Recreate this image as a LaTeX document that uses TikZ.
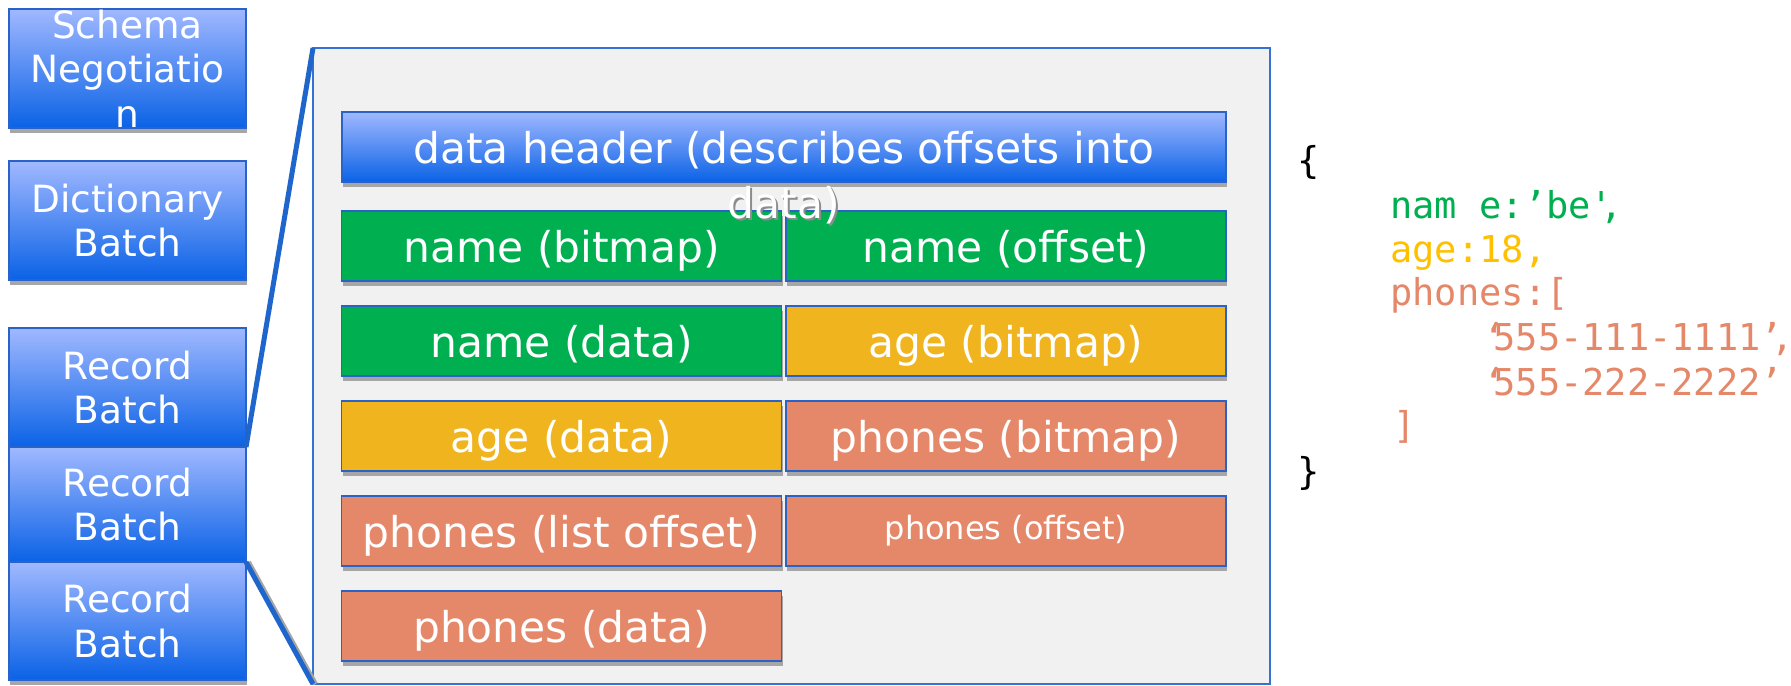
\documentclass[tikz,border=0pt]{standalone}
\usepackage{fontspec}
\setmainfont{DejaVu Sans}
\newfontfamily\jsonfont{DejaVu Sans Mono}
\usetikzlibrary{shadows}
\definecolor{gradtop}{HTML}{A0B8FF}
\definecolor{gradbot}{HTML}{0A62E6}
\definecolor{boxblue}{HTML}{2A62C8}
\definecolor{cgreen}{HTML}{00B050}
\definecolor{cyellow}{HTML}{F0B41E}
\definecolor{csalmon}{HTML}{E5886A}
\definecolor{jyellow}{HTML}{FFC000}
\definecolor{panelfill}{HTML}{F1F1F1}
\definecolor{panelline}{HTML}{3572D4}
\definecolor{linkblue}{HTML}{1F66CC}
\definecolor{shadowgray}{HTML}{A6A6A6}
\tikzset{
  basebox/.style={draw=boxblue, line width=0.75pt, inner sep=0pt, outer sep=0pt, rectangle,
    drop shadow={shadow xshift=0.5pt, shadow yshift=-2.5pt, fill=shadowgray, opacity=1}},
  bluebox/.style={basebox, top color=gradtop, bottom color=gradbot},
  cellfont/.style={text=white, font=\fontsize{21.2}{25}\selectfont, text height=17pt, text depth=0.5pt},
  greenbox/.style={basebox, fill=cgreen, cellfont},
  yellowbox/.style={basebox, fill=cyellow, cellfont},
  salmonbox/.style={basebox, fill=csalmon, cellfont},
  leftbox/.style={bluebox, minimum width=118.5pt},
  cell/.style={minimum width=220pt, minimum height=35pt},
  lbl/.style={text=white, inner sep=0pt, align=center, font=\fontsize{18.75}{22.25}\selectfont},
  hdr/.style={text=white, inner sep=0pt, anchor=base, font=\fontsize{21.2}{25}\selectfont},
  json/.style={inner sep=0pt, anchor=base west, font=\jsonfont\fontsize{18.5}{22}\selectfont},
  link/.style={draw=linkblue, line width=2.5pt},
}
\begin{document}
\begin{tikzpicture}[x=0.5pt,y=-0.5pt]
\fill[white] (0,0) rectangle (1791,685);
\useasboundingbox (0,0) rectangle (1791,685);

% panel
\node[draw=panelline, line width=0.75pt, fill=panelfill, inner sep=0pt, outer sep=0pt,
      minimum width=478.5pt, minimum height=318pt] (panel) at (791.5,366) {};

% left column
\node[leftbox, minimum height=59.5pt] (schema) at (127.5,68.5) {};
\node[leftbox, minimum height=59.5pt] (dict) at (127.5,220.5) {};
\node[leftbox, minimum height=59.5pt] (rb1) at (127.5,387.5) {};
\node[leftbox, minimum height=57.5pt] (rb2) at (127.5,504.5) {};
\node[leftbox, minimum height=59pt] (rb3) at (127.5,621) {};

\node[lbl] (schemat) at (127.5,68.5) {Schema\\Negotiatio\\n};
\node[lbl] (dictt) at (127.5,220.5) {Dictionary\\Batch};
\node[lbl] (rb1t) at (127.5,387.5) {Record\\Batch};
\node[lbl] (rb2t) at (127.5,504.5) {Record\\Batch};
\node[lbl] (rb3t) at (127.5,621) {Record\\Batch};

% zoom lines
\draw[shadowgray, line width=2.5pt] ([xshift=1.2pt]rb2.south east) -- ([xshift=1.2pt]panel.south west);
\draw[link] (panel.north west) -- (rb1.south east);
\draw[link] (rb2.south east) -- (panel.south west);

% inner boxes
\node[bluebox, minimum width=442pt, minimum height=35pt] (header) at (784,147) {};
\node[greenbox, cell] (namebm) at (561.5,246) {name (bitmap)};
\node[greenbox, cell] (nameoff) at (1006,246) {name (offset)};
\node[greenbox, cell] (namedata) at (561.5,341) {name (data)};
\node[yellowbox, cell] (agebm) at (1006,341) {age (bitmap)};
\node[yellowbox, cell] (agedata) at (561.5,436) {age (data)};
\node[salmonbox, cell] (phbm) at (1006,436) {phones (bitmap)};
\node[salmonbox, cell] (phlist) at (561.5,531) {phones (list offset)};
\node[salmonbox, cell, font=\fontsize{16}{19}\selectfont, text height=9.3pt, text depth=1.3pt] (phoff) at (1006,531) {phones (offset)};
\node[salmonbox, cell] (phdata) at (561.5,626) {phones (data)};

% header text (overflowing)
\node[hdr] (hdr1) at (784,163) {data header (describes offsets into};
\node[hdr, text=black!45] (hdr2s) at (785.5,220) {data)};
\node[hdr] (hdr2) at (784,218.5) {data)};

% json
\node[json] (j1) at (1297,173) {\{};
\node[json, text=cgreen] (j2) at (1390,218) {nam e:’be\symbol{39}\kern-0.33em,};
\node[json, text=jyellow] (j3) at (1390,262) {age:18,};
\node[json, text=csalmon] (j4) at (1390,305) {phones:[};
\node[json, text=csalmon] (j5) at (1483,350) {‘\kern-0.33em 555-111-1111’\kern-0.3em,};
\node[json, text=csalmon] (j6) at (1483,395) {‘\kern-0.33em 555-222-2222’};
\node[json, text=csalmon] (j7) at (1393,438) {]};
\node[json] (j8) at (1297,484) {\}};
\end{tikzpicture}
\end{document}
